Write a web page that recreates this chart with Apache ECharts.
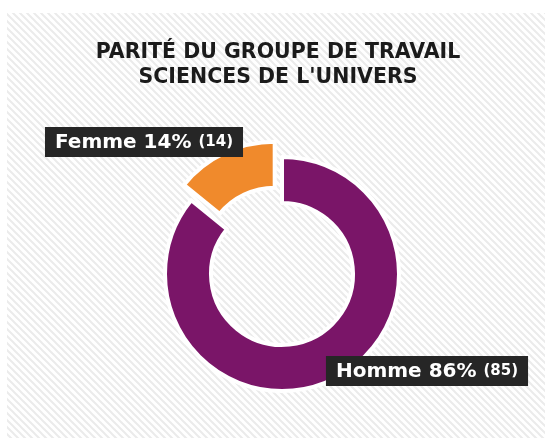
<!DOCTYPE html>
<html>
<head>
<meta charset="utf-8">
<script src="https://cdn.jsdelivr.net/npm/echarts@6/dist/echarts.min.js"></script>
<style>
  html, body { margin: 0; padding: 0; background: #fff; }
  #chart { width: 545px; height: 438px; }
</style>
</head>
<body>
<div id="chart"></div>
<script>
var parityNames = ['Homme', 'Femme'];
var parityValues = [85, 14];
var parityColors = ['#7a1568', '#f08a2c'];
var parityTitle = "PARITÉ DU GROUPE DE TRAVAIL\nSCIENCES DE L'UNIVERS";

// striped background tile
var stripeTile = document.createElement('canvas');
stripeTile.width = 7;
stripeTile.height = 7;
var ctx = stripeTile.getContext('2d');
ctx.fillStyle = '#ffffff';
ctx.fillRect(0, 0, 7, 7);
ctx.strokeStyle = '#ebebeb';
ctx.lineWidth = 2;
ctx.beginPath();
ctx.moveTo(-1, -1); ctx.lineTo(8, 8);
ctx.moveTo(-8, -1); ctx.lineTo(1, 8);
ctx.moveTo(6, -1); ctx.lineTo(15, 8);
ctx.stroke();

var parityDom = document.getElementById('chart');
var parityChart = echarts.init(parityDom);

var pieCenter = [282, 274];
var pullOut = 17;   // how far the Femme slice is pulled out
var pulledIndex = 1;

// direction of the pulled slice's bisector (slices run clockwise from the top)
var total = 0, before = 0;
for (var i = 0; i < parityValues.length; i++) {
  total += parityValues[i];
  if (i < pulledIndex) before += parityValues[i];
}
var midAngle = (90 - 360 * (before + parityValues[pulledIndex] / 2) / total) * Math.PI / 180;
var pulledCenter = [pieCenter[0] + pullOut * Math.cos(midAngle), pieCenter[1] - pullOut * Math.sin(midAngle)];

// centre of each label box
var labelSpots = [[427, 371], [144, 142]];

function ringData(showIndex) {
  var out = [];
  for (var i = 0; i < parityNames.length; i++) {
    var shown = showIndex(i);
    out.push({
      name: parityNames[i],
      value: parityValues[i],
      itemStyle: shown ? { color: parityColors[i] } : { color: 'rgba(0,0,0,0)', borderColor: 'rgba(0,0,0,0)' },
      label: { show: shown }
    });
  }
  return out;
}

var labelStyle = {
  show: true,
  position: 'inside',
  backgroundColor: '#262626',
  padding: [3, 10, 2, 10],
  formatter: function (p) {
    return '{a|' + p.name + ' ' + Math.round(p.percent) + '% }{b|(' + p.value + ')}';
  },
  rich: {
    a: { fontFamily: 'DejaVu Sans', fontSize: 20, fontWeight: 600, color: '#fff', lineHeight: 25 },
    b: { fontFamily: 'DejaVu Sans', fontSize: 15, fontWeight: 600, color: '#fff', lineHeight: 25 }
  }
};

function labelAt(params) {
  var spot = labelSpots[params.dataIndex];
  return { x: spot[0], y: spot[1] };
}

var parityOption = {
  backgroundColor: '#fff',
  graphic: [{
    type: 'rect',
    z: -10,
    silent: true,
    shape: { x: 7, y: 13, width: 540, height: 430 },
    style: { fill: { image: stripeTile, repeat: 'repeat' } }
  }],
  title: {
    text: parityTitle,
    left: 273,
    textAlign: 'center',
    top: 35,
    textStyle: {
      fontFamily: 'DejaVu Sans',
      fontSize: 20.5,
      fontWeight: 'bold',
      lineHeight: 25,
      color: '#1b1b1b'
    }
  },
  series: [{
    type: 'pie',
    center: pieCenter,
    radius: [71, 117],
    startAngle: 90,
    animation: false,
    silent: true,
    itemStyle: { borderColor: '#fff', borderWidth: 4 },
    labelLine: { show: false },
    label: labelStyle,
    labelLayout: labelAt,
    data: ringData(function (i) { return i != pulledIndex; })
  }, {
    type: 'pie',
    center: pulledCenter,
    radius: [71, 117],
    startAngle: 90,
    animation: false,
    silent: true,
    itemStyle: { borderColor: '#fff', borderWidth: 4 },
    labelLine: { show: false },
    label: labelStyle,
    labelLayout: labelAt,
    data: ringData(function (i) { return i == pulledIndex; })
  }]
};
parityChart.setOption(parityOption);
</script>
</body>
</html>
